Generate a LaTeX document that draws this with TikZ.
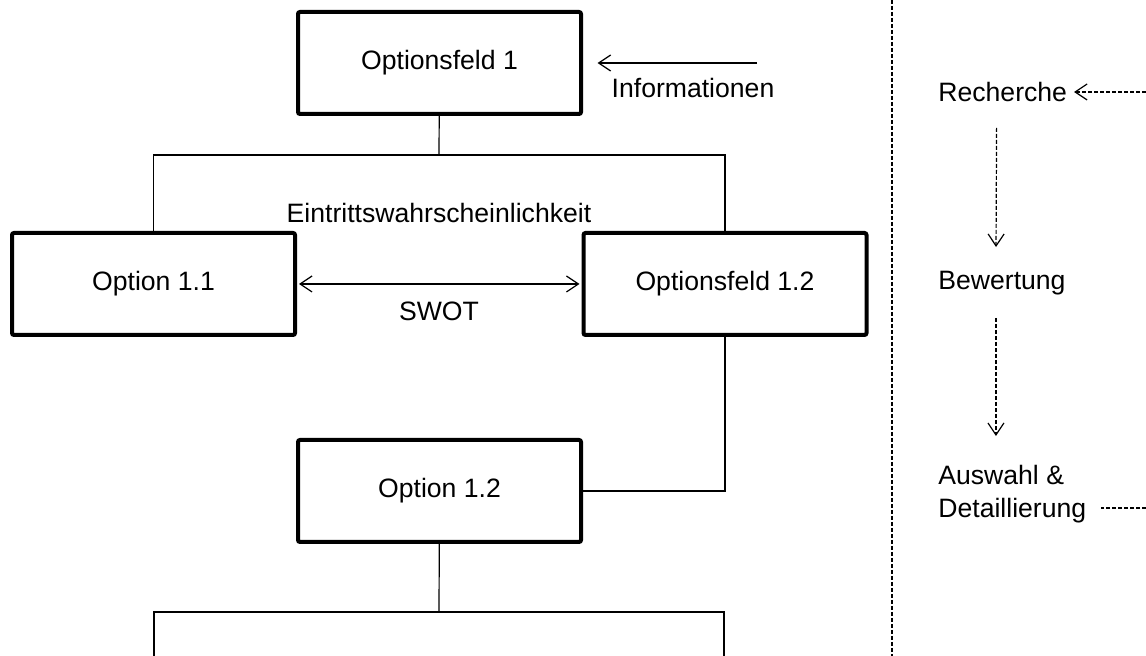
\documentclass[tikz,border=0pt]{standalone}
\usepackage{fontspec}
\setmainfont{Liberation Sans}
\usetikzlibrary{arrows.meta}
\begin{document}
\begin{tikzpicture}[x=0.5pt,y=-0.5pt,font=\fontsize{13.3}{16.5}\selectfont,
    box/.style={draw,line width=2pt,rounded corners=1pt,minimum width=141.5pt,minimum height=51pt},
    con/.style={line width=0.6pt},
    dsh/.style={line width=0.6pt,dash pattern=on 2pt off 1pt},
    >={Straight Barb[length=6pt,width=8pt]}]
\useasboundingbox (0,0) rectangle (1146,656);
\foreach \n/\x/\y/\t in {of1/439.5/63/Optionsfeld 1,o11/153.5/284/Option 1.1,of12/725/284/Optionsfeld 1.2,o12/439.5/491/Option 1.2}
  \node[box] (\n) at (\x,\y) {\t};
\path (439,155) coordinate (t1) (439,612) coordinate (t2)
  (154,656) coordinate (b1) (724,656) coordinate (b2)
  (757,63) coordinate (inf);
\draw[con] (of1) -- (t1);
\draw[con] (o11.north) |- (t1) -| (of12.north);
\draw[con] (of12.south) |- (o12.east);
\draw[con] (o12) -- (t2);
\draw[con] (b1) |- (t2) -| (b2);
\draw[con,<->,shorten <=1pt,shorten >=1pt] (o11) -- (of12);
\node (ew) at (439,213) {Eintrittswahrscheinlichkeit};
\node (swot) at (439,311) {SWOT};
\draw[con,->,shorten >=7.3pt] (inf) -- (of1);
\node (info) at (693,88) {Informationen};
% rechte Seite
\draw[dsh] (892,0) -- (892,656);
\node[anchor=west] (rech) at (931.3,92) {Recherche};
\node[anchor=west] (bew) at (931.3,283) {Bewertung};
\node[anchor=west,align=left] (aus) at (931.3,494) {Auswahl \&\\Detaillierung};
\path (1146,92) coordinate (rin) (1146,508) coordinate (aout);
\draw[dsh,->] (rin) -- (rech);
\draw[dsh,->,shorten <=9.5pt,shorten >=8.5pt] ([xshift=-3pt]rech.south) -- ([xshift=-3pt]bew.north);
\draw[dsh,->,shorten <=8pt,shorten >=11pt] ([xshift=-3pt]bew.south) -- ([xshift=-3pt]bew.south |- aus.north);
\draw[dsh,shorten >=4pt] (aout) -- (aout -| aus.east);
\end{tikzpicture}
\end{document}
